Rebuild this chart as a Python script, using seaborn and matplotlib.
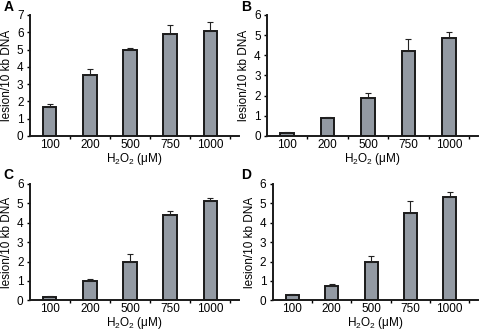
import numpy as np
import pandas as pd
import seaborn as sns
import matplotlib.pyplot as plt
from matplotlib.ticker import FixedLocator

# doses (uM) and lesion frequencies
doses = ["100", "200", "500", "750", "1000"]
lesA = [1.7, 3.5, 4.95, 5.9, 6.1]
errA = [0.12, 0.35, 0.15, 0.5, 0.5]
lesB = [0.15, 0.9, 1.9, 4.2, 4.85]
errB = [0.06, 0.06, 0.25, 0.62, 0.3]
lesC = [0.15, 1.0, 2.0, 4.4, 5.1]
errC = [0.06, 0.12, 0.4, 0.2, 0.17]
lesD = [0.3, 0.72, 2.0, 4.5, 5.3]
errD = [0.05, 0.13, 0.27, 0.62, 0.3]

plt.rcParams['font.family'] = ['Liberation Sans', 'DejaVu Sans']
plt.rcParams['mathtext.fontset'] = 'custom'
plt.rcParams['mathtext.rm'] = 'Liberation Sans'

fig = plt.figure(figsize=(4.8, 3.33), dpi=100)

panels = [
    ("A", lesA, errA, 7, [0.062, 0.592, 0.436, 0.363], 0.008),
    ("B", lesB, errB, 6, [0.556, 0.592, 0.44, 0.363], 0.502),
    ("C", lesC, errC, 6, [0.062, 0.098, 0.436, 0.35], 0.008),
    ("D", lesD, errD, 6, [0.568, 0.098, 0.428, 0.35], 0.502),
]

for letter, vals, errs, ymax, pos, lx in panels:
    ax = fig.add_axes(pos)
    df = pd.DataFrame({"dose": doses, "lesion": vals})
    sns.barplot(data=df, x="dose", y="lesion", color="#939aa3", saturation=1,
                edgecolor="#1a1a1a", linewidth=1.4, width=0.33, ax=ax)
    ax.errorbar(np.arange(len(vals)), vals, yerr=[np.zeros(len(vals)), errs],
                fmt="none", ecolor="#222222", elinewidth=0.8, capsize=2, capthick=0.8)
    ax.set_ylim(0, ymax)
    ax.set_xlim(-0.5, 4.72)
    ax.set_yticks(range(ymax + 1))
    ax.xaxis.set_minor_locator(FixedLocator([0.5, 1.5, 2.5, 3.5, 4.5]))
    ax.tick_params(axis="x", which="major", length=0, labelsize=8.5, pad=2)
    ax.tick_params(axis="x", which="minor", length=2.5, width=1, direction="out")
    ax.tick_params(axis="y", length=2.5, width=1, labelsize=8.5, pad=2)
    for s in ["top", "right"]:
        ax.spines[s].set_visible(False)
    for s in ["left", "bottom"]:
        ax.spines[s].set_linewidth(1.4)
        ax.spines[s].set_color("#1a1a1a")
    ax.set_ylabel("lesion/10 kb DNA", fontsize=8.5, labelpad=3)
    ax.set_xlabel("H$_2$O$_2$ (\u03bcM)", fontsize=8.5, labelpad=0)
    fig.text(lx, pos[1] + pos[3] + 0.004, letter, fontsize=10, fontweight="bold",
             va="bottom", ha="left")

fig.savefig("out.png", dpi=100)
